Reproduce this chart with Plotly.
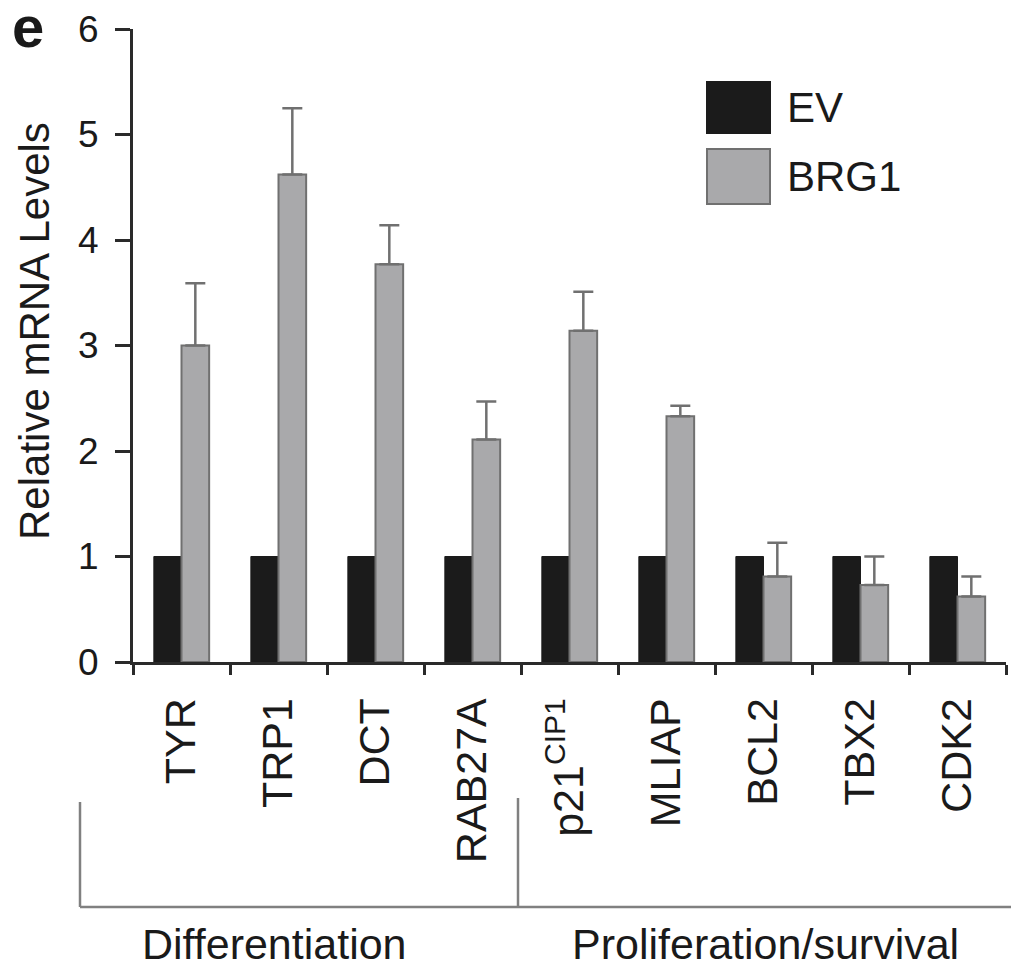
import plotly.graph_objects as go

# Genes grouped by function
genes = ["TYR", "TRP1", "DCT", "RAB27A", "p21<sup>CIP1</sup>",
         "MLIAP", "BCL2", "TBX2", "CDK2"]
ev_levels = [1.0, 1.0, 1.0, 1.0, 1.0, 1.0, 1.0, 1.0, 1.0]
brg1_levels = [3.00, 4.62, 3.77, 2.11, 3.14, 2.33, 0.81, 0.73, 0.62]
brg1_sem = [0.59, 0.63, 0.37, 0.36, 0.37, 0.10, 0.32, 0.27, 0.19]
zero_minus = [0, 0, 0, 0, 0, 0, 0, 0, 0]
y_ticks = [0, 1, 2, 3, 4, 5, 6]
group_names = ["Differentiation", "Proliferation/survival"]

W, H = 1011, 970
ML, MR, MT, MB = 133, 5, 29, 308
PW, PH = W - ML - MR, H - MT - MB

FONT = "Liberation Sans, Arial, Helvetica, sans-serif"
INK = "#1a1a1a"
GREY_LINE = "#707070"


def px(x):
    return (x - ML) / PW


def py(y):
    return (H - MB - y) / PH


fig = go.Figure()
fig.add_bar(
    x=genes, y=ev_levels, name="EV",
    marker=dict(color="#1b1b1b", line=dict(color="#1b1b1b", width=1)),
)
fig.add_bar(
    x=genes, y=brg1_levels, name="BRG1",
    marker=dict(color="#a9a9ab", line=dict(color=GREY_LINE, width=2)),
    error_y=dict(type="data", symmetric=False, array=brg1_sem,
                 arrayminus=zero_minus, color=GREY_LINE,
                 thickness=2.5, width=10),
)

shapes = []
annotations = []

# legend swatches and labels
for (y0, y1, fill, line, label) in [
    (82, 133, "#1b1b1b", "#1b1b1b", "EV"),
    (149, 204, "#a9a9ab", GREY_LINE, "BRG1"),
]:
    shapes.append(dict(type="rect", xref="paper", yref="paper",
                       x0=px(707), x1=px(770), y0=py(y1), y1=py(y0),
                       fillcolor=fill, line=dict(color=line, width=2)))
    annotations.append(dict(xref="paper", yref="paper", x=px(785),
                            y=py((y0 + y1) / 2), text=label,
                            showarrow=False, xanchor="left",
                            yanchor="middle",
                            font=dict(size=42, family=FONT, color=INK)))

# group bracket below the gene labels
bracket = dict(color="#808080", width=2.5)
shapes.append(dict(type="line", xref="paper", yref="paper",
                   x0=px(80), x1=px(1011), y0=py(907), y1=py(907),
                   line=bracket))
shapes.append(dict(type="line", xref="paper", yref="paper",
                   x0=px(80), x1=px(80), y0=py(802), y1=py(907),
                   line=bracket))
shapes.append(dict(type="line", xref="paper", yref="paper",
                   x0=px(518), x1=px(518), y0=py(798), y1=py(907),
                   line=bracket))

for name, cx in zip(group_names, [274, 765]):
    annotations.append(dict(xref="paper", yref="paper", x=px(cx),
                            y=py(944), text=name, showarrow=False,
                            xanchor="center", yanchor="middle",
                            font=dict(size=43, family=FONT, color=INK)))

# y-axis title
annotations.append(dict(xref="paper", yref="paper", x=px(34), y=py(331),
                        text="Relative mRNA Levels", textangle=-90,
                        showarrow=False, xanchor="center", yanchor="middle",
                        font=dict(size=42, family=FONT, color=INK)))

# panel letter
annotations.append(dict(xref="paper", yref="paper", x=px(28), y=py(0),
                        text="<b>e</b>", showarrow=False,
                        xanchor="center", yanchor="top", yshift=8,
                        font=dict(size=58, family=FONT, color=INK)))

fig.update_layout(
    width=W, height=H, autosize=False,
    margin=dict(l=ML, r=MR, t=MT, b=MB, pad=0),
    paper_bgcolor="white", plot_bgcolor="white",
    barmode="group", bargap=0.43, bargroupgap=0,
    showlegend=False,
    font=dict(family=FONT, color=INK),
    shapes=shapes, annotations=annotations,
)
fig.update_xaxes(
    type="category", range=[-0.5, 8.5],
    showline=True, linecolor="#2a2a2a", linewidth=3,
    ticks="outside", tickson="boundaries", ticklen=10, tickwidth=3,
    tickcolor="#2a2a2a", tickangle=-90, ticklabelstandoff=16,
    tickfont=dict(size=43, family=FONT, color=INK),
    showgrid=False, zeroline=False,
)
fig.update_yaxes(
    range=[0, 6], tickvals=y_ticks,
    showline=True, linecolor="#2a2a2a", linewidth=3,
    ticks="outside", ticklen=15, tickwidth=3, tickcolor="#2a2a2a",
    ticklabelstandoff=9,
    tickfont=dict(size=37, family=FONT, color=INK),
    showgrid=False, zeroline=False,
)

fig.write_html("out.html")
